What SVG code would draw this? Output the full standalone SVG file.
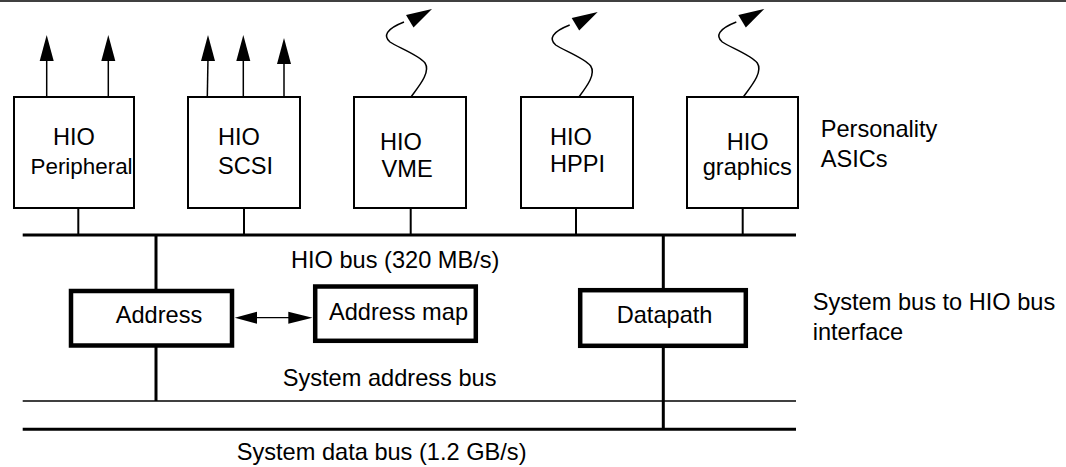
<svg xmlns="http://www.w3.org/2000/svg" xmlns:xlink="http://www.w3.org/1999/xlink" width="1066" height="467" viewBox="0 0 1066 467">
<style>
text{font-family:"Liberation Sans",Arial,Helvetica,sans-serif;font-size:23.6px;fill:#000}
.box{fill:#fff;stroke:#000;stroke-width:2}
.tbox{fill:#fff;stroke:#000;stroke-width:4.5}
.bus{stroke:#000;stroke-width:3;fill:none}
.thin{stroke:#000;stroke-width:1.7;fill:none}
.stub{stroke:#000;stroke-width:2;fill:none}
.ar{stroke:#000;stroke-width:1.5;fill:none}
.head{fill:#000;stroke:none}
</style>
<defs>
<g id="wavy">
<path class="ar" d="M411,97 C419,86 431,72 425,63 C419,55 397,47 390,42 C383,36 386,29 404,22"/>
<polygon class="head" points="432,9 406,15 413.5,27.5"/>
</g>
<g id="up">
<polygon class="head" points="0,0 -7,26 7,26"/>
</g>
</defs>
<rect width="1066" height="467" fill="#fff"/>
<line x1="0" y1="1" x2="1066" y2="1" stroke="#000" stroke-width="1.6"/>

<g id="connectors">
<line class="ar" x1="46.7" y1="97" x2="46.7" y2="58"/>
<use xlink:href="#up" transform="translate(46.7,35)"/>
<line class="ar" x1="108.3" y1="97" x2="108.3" y2="58"/>
<use xlink:href="#up" transform="translate(108.3,35)"/>
<line class="ar" x1="207.3" y1="97" x2="208" y2="58"/>
<use xlink:href="#up" transform="translate(208,35)"/>
<line class="ar" x1="243.3" y1="97" x2="243.3" y2="58"/>
<use xlink:href="#up" transform="translate(243.3,35)"/>
<line class="ar" x1="284" y1="97" x2="284" y2="60"/>
<use xlink:href="#up" transform="translate(284,38)"/>
<use xlink:href="#wavy"/>
<use xlink:href="#wavy" transform="translate(165.7,3)"/>
<use xlink:href="#wavy" transform="translate(332.3,0)"/>
<line class="stub" x1="78.3" y1="208" x2="78.3" y2="235"/>
<line class="stub" x1="244" y1="208" x2="244" y2="235"/>
<line class="stub" x1="410.7" y1="208" x2="410.7" y2="235"/>
<line class="stub" x1="576" y1="208" x2="576" y2="235"/>
<line class="stub" x1="742.7" y1="208" x2="742.7" y2="235"/>
<line class="bus" x1="22.7" y1="235" x2="796" y2="235"/>
<line class="thin" x1="22.7" y1="401" x2="796" y2="401"/>
<line class="bus" x1="22.7" y1="429.3" x2="796" y2="429.3"/>
<line class="bus" x1="156" y1="235" x2="156" y2="289"/>
<line class="bus" x1="156" y1="347" x2="156" y2="401"/>
<line class="bus" x1="663.3" y1="235" x2="663.3" y2="288"/>
<line class="bus" x1="663.3" y1="347" x2="663.3" y2="429.3"/>
<line stroke="#000" stroke-width="1.3" x1="255" y1="317.7" x2="290" y2="317.7"/>
<polygon class="head" points="234.8,317.7 257,311.7 257,323.7"/>
<polygon class="head" points="312.5,317.7 288.3,311.7 288.3,323.7"/>
</g>

<g id="hio-peripheral">
<rect class="box" x="14" y="97" width="120" height="111"/>
<text x="53" y="145">HIO</text>
<text x="30.5" y="174" style="font-size:22.4px">Peripheral</text>
</g>
<g id="hio-scsi">
<rect class="box" x="188" y="97" width="112" height="111"/>
<text x="218" y="145">HIO</text>
<text x="218" y="174">SCSI</text>
</g>
<g id="hio-vme">
<rect class="box" x="354" y="97" width="112" height="111"/>
<text x="380" y="150">HIO</text>
<text x="381.5" y="177">VME</text>
</g>
<g id="hio-hppi">
<rect class="box" x="521" y="97" width="112" height="111"/>
<text x="550" y="145">HIO</text>
<text x="550" y="172">HPPI</text>
</g>
<g id="hio-graphics">
<rect class="box" x="687" y="97" width="111" height="111"/>
<text x="726.7" y="150">HIO</text>
<text x="702.7" y="175">graphics</text>
</g>
<g id="address">
<rect class="tbox" x="71" y="291" width="161" height="54.5"/>
<text x="115.7" y="323.3">Address</text>
</g>
<g id="address-map">
<rect class="tbox" x="315.2" y="286.5" width="160.6" height="54.3"/>
<text x="329" y="320">Address map</text>
</g>
<g id="datapath">
<rect class="tbox" x="580.2" y="290.2" width="165.6" height="55.6"/>
<text x="616.7" y="323.3">Datapath</text>
</g>
<g id="labels">
<text x="820.7" y="136.7">Personality</text>
<text x="820.7" y="166.7">ASICs</text>
<text x="291" y="268.3">HIO bus (320 MB/s)</text>
<text x="282.7" y="385.7">System address bus</text>
<text x="236.7" y="460">System data bus (1.2 GB/s)</text>
<text x="812.7" y="310">System bus to HIO bus</text>
<text x="812.7" y="340">interface</text>
</g>
</svg>
